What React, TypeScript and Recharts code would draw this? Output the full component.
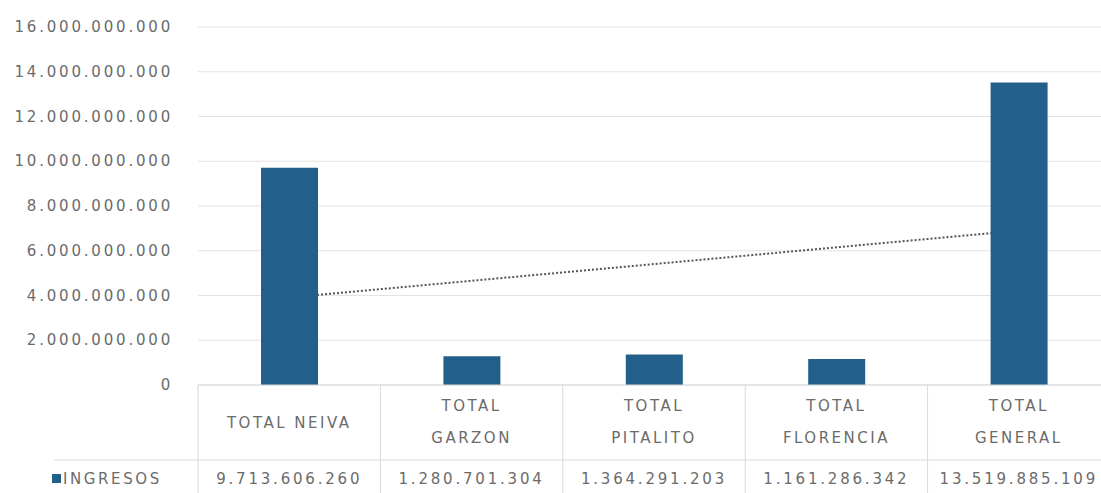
import React from 'react';
import { ComposedChart, Bar, Line, XAxis, YAxis, CartesianGrid } from 'recharts';

const categories = ['TOTAL NEIVA', 'TOTAL GARZON', 'TOTAL PITALITO', 'TOTAL FLORENCIA', 'TOTAL GENERAL'];
const ingresos = [9713606260, 1280701304, 1364291203, 1161286342, 13519885109];
// linear trendline endpoints (first and last category)
const trendLine = [3910000000, null, null, null, 6900000000];
const yTicks = [0, 2000000000, 4000000000, 6000000000, 8000000000, 10000000000, 12000000000, 14000000000, 16000000000];
const seriesName = 'INGRESOS';

const data = categories.map((c, i) => ({ name: c, ingresos: ingresos[i], trend: trendLine[i] }));

const CHART_W = 1112;
const CHART_H = 493;
const Y_AXIS_W = 198;
const MARGIN = { top: 27, right: 2, bottom: 0, left: 0 };
const PLOT_W = CHART_W - Y_AXIS_W - MARGIN.left - MARGIN.right;
const COL_W = PLOT_W / categories.length;

const FONT = '"DejaVu Sans", sans-serif';
const TEXT_COLOR = '#6b6b6b';
const LINE_COLOR = '#d9d9d9';
const BAR_COLOR = '#22608B';

const fmt = (v: number) => Math.round(v).toString().replace(/\B(?=(\d{3})+(?!\d))/g, '.');

function YTick(props: any) {
  const { x, y, payload } = props;
  return (
    <text x={x} y={y} textAnchor="end" dominantBaseline="central" fontFamily={FONT} fontSize={15} letterSpacing={2.8} fill={TEXT_COLOR}>
      {fmt(payload.value)}
    </text>
  );
}

function TableTick(props: any) {
  const { x, y, payload } = props;
  const i: number = payload.index ?? props.index;
  const left = x - COL_W / 2;
  const label = categories[i];
  const lines = label.length > 11 ? [label.slice(0, label.indexOf(' ')), label.slice(label.indexOf(' ') + 1)] : [label];
  const textProps = { fontFamily: FONT, fontSize: 15, letterSpacing: 2.5, fill: TEXT_COLOR, textAnchor: 'middle' as const, dominantBaseline: 'central' as const };
  return (
    <g>
      <line x1={left} x2={left} y1={y} y2={y + 120} stroke={LINE_COLOR} strokeWidth={1} />
      {i === 0 && (
        <g>
          <line x1={left - 144} x2={left + COL_W * categories.length + 10} y1={y + 75} y2={y + 75} stroke={LINE_COLOR} strokeWidth={1} />
          <rect x={left - 146} y={y + 89} width={9} height={9} fill={BAR_COLOR} />
          <text x={left - 135} y={y + 94} dominantBaseline="central" fontFamily={FONT} fontSize={15} letterSpacing={2.6} fill={TEXT_COLOR}>
            {seriesName}
          </text>
        </g>
      )}
      {lines.length === 1 ? (
        <text x={x} y={y + 38} {...textProps}>{lines[0]}</text>
      ) : (
        lines.map((ln, k) => (
          <text key={k} x={x} y={y + 21 + k * 32} {...textProps}>{ln}</text>
        ))
      )}
      <text x={x} y={y + 94} {...textProps} letterSpacing={2.8}>{fmt(ingresos[i])}</text>
    </g>
  );
}

export default function App() {
  return (
    <div style={{ position: 'absolute', left: 0, top: 0, width: 1101, height: 493, overflow: 'hidden', background: '#fff' }}>
      <ComposedChart width={CHART_W} height={CHART_H} data={data} margin={MARGIN}>
        <CartesianGrid vertical={false} stroke="#e3e3e3" strokeWidth={1} />
        <YAxis
          width={Y_AXIS_W}
          domain={[0, 16000000000]}
          ticks={yTicks}
          tickLine={false}
          axisLine={false}
          tickSize={0}
          tickMargin={25}
          tick={<YTick />}
          interval={0}
        />
        <XAxis
          dataKey="name"
          height={CHART_H - MARGIN.top - 358}
          tickLine={false}
          tickSize={0}
          tickMargin={0}
          axisLine={{ stroke: LINE_COLOR }}
          tick={<TableTick />}
          interval={0}
        />
        <Line
          dataKey="trend"
          connectNulls
          stroke="#555555"
          strokeWidth={2}
          strokeDasharray="2 2"
          dot={false}
          activeDot={false}
          isAnimationActive={false}
          zIndex={250}
        />
        <Bar dataKey="ingresos" fill={BAR_COLOR} barSize={57} isAnimationActive={false} zIndex={300} />
      </ComposedChart>
    </div>
  );
}
